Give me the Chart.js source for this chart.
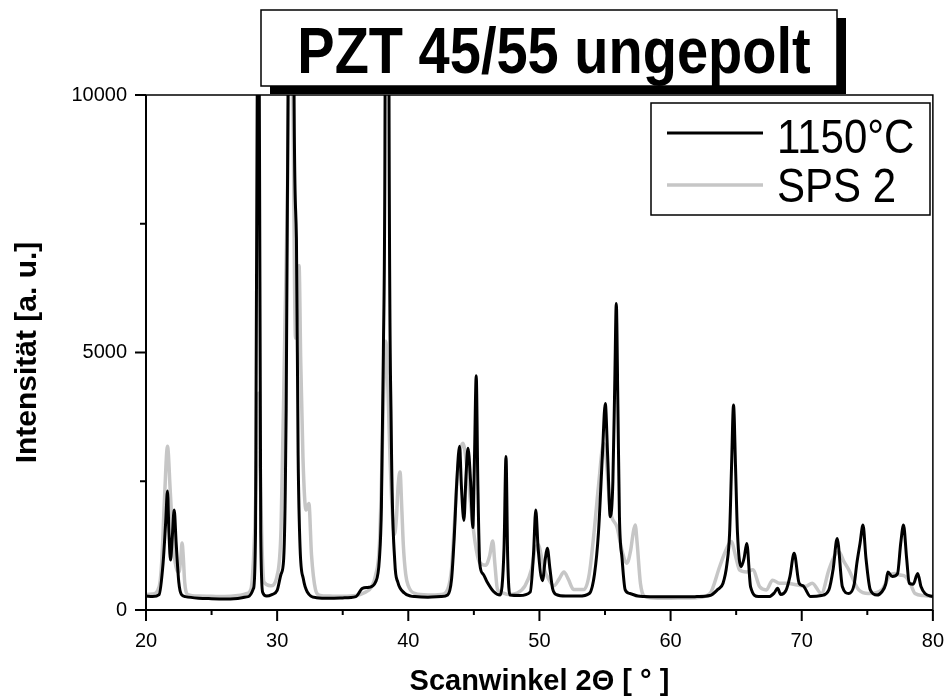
<!DOCTYPE html>
<html>
<head>
<meta charset="utf-8">
<script src="https://cdn.jsdelivr.net/npm/chart.js@4.4.1/dist/chart.umd.min.js"></script>
<style>
  body { margin: 0; background: #fff; }
  #wrap { width: 952px; height: 700px; position: relative; }
</style>
</head>
<body>
<div id="wrap"><canvas id="xrdChart"></canvas></div>
<script>
// XRD scan, values (peaks above 10000 are cut by the axis)
var chartTitle = 'PZT 45/55 ungepolt';
var seriesNames = ['1150°C', 'SPS 2'];

var angle1150 = [20.0, 20.5, 21.0, 21.3, 21.5, 21.64, 21.75, 21.87, 22.0, 22.15, 22.3, 22.5, 22.7, 23.0, 24.0, 25.0, 26.0, 27.0, 27.8, 28.2,
  28.35, 28.48, 28.56, 28.64, 28.75, 28.9, 29.2, 29.6, 30.0, 30.3, 30.5, 30.65, 30.83, 31.05, 31.29, 31.47, 31.6, 31.75, 32.0, 32.3,
  33.0, 34.0, 35.0, 36.0, 36.5, 37.0, 37.5, 37.8, 37.95, 38.1, 38.23, 38.38, 38.53, 38.7, 38.97, 39.2, 39.7, 40.2,
  40.5, 41.5, 42.5, 43.0, 43.3, 43.5, 43.7, 43.91, 44.05, 44.24, 44.4, 44.55, 44.75, 44.92, 45.05, 45.18, 45.3, 45.45, 45.7, 46.0, 46.5,
  47.0, 47.3, 47.45, 47.58, 47.75, 48.5, 49.3, 49.55, 49.72, 49.9, 50.23, 50.45, 50.6, 50.8, 51.0, 51.3, 52.0, 53.0, 53.8,
  54.2, 54.5, 54.8, 55.02, 55.2, 55.4, 55.6, 55.75, 55.86, 55.98, 56.1, 56.3, 56.54, 56.9, 57.5, 58.0, 59.0, 60.0, 61.0, 62.0,
  63.0, 63.6, 64.0, 64.3, 64.5, 64.65, 64.8, 64.95, 65.1, 65.38, 65.6, 65.81, 66.1, 66.7, 67.5, 67.9, 68.16, 68.4, 68.8, 69.1,
  69.42, 69.8, 70.1, 70.68, 71.5, 72.07, 72.4, 72.7, 73.1, 73.59, 74.0, 74.2, 74.45, 74.67, 74.9, 75.23, 75.75, 76.1, 76.4,
  76.57, 76.9, 77.3, 77.55, 77.76, 78.0, 78.2, 78.5, 78.84, 79.1, 79.4, 80.0];
var count1150 = [270, 260, 300, 900, 1700, 2310, 1500, 970, 1400, 1940, 1300, 540, 300, 260, 230, 220, 215, 225, 260, 420,
  1500, 10000, 30000, 10000, 1500, 340, 270, 300, 380, 700, 1000, 3000, 10000, 40000, 10000, 7220, 3000, 1200, 600, 350,
  240, 230, 235, 260, 420, 440, 540, 1000, 2000, 5000, 10000, 35000, 10000, 3500, 940, 540, 330, 270,
  260, 250, 260, 290, 600, 1400, 2500, 3180, 2400, 1740, 2600, 3140, 2500, 1600, 3000, 4550, 2500, 900, 700, 550, 360,
  290, 1200, 2980, 1000, 290, 280, 350, 1100, 1940, 1200, 570, 1000, 1200, 800, 420, 300, 270, 270, 320,
  700, 1500, 3000, 4010, 3000, 1810, 2500, 4500, 5950, 4000, 1810, 1000, 390, 320, 270, 260, 255, 255, 255, 260,
  280, 400, 520, 900, 1490, 2800, 3980, 2800, 1500, 840, 1000, 1290, 450, 260, 260, 330, 420, 300, 380, 650,
  1100, 520, 470, 260, 280, 390, 800, 1390, 450, 320, 500, 900, 1300, 1650, 1000, 390, 290, 350, 500,
  740, 650, 700, 1300, 1650, 1000, 520, 500, 710, 450, 320, 260];

var angleSPS = [20.0, 20.5, 21.0, 21.2, 21.4, 21.64, 21.85, 22.1, 22.35, 22.52, 22.65, 22.75, 22.85, 22.95, 23.2, 24.0, 25.0, 26.0, 27.0, 27.7,
  28.0, 28.3, 28.5, 28.58, 28.7, 28.85, 29.0, 29.5, 30.0, 30.3, 30.6, 30.8, 30.87, 31.0, 31.2, 31.4, 31.55, 31.67, 31.8, 31.97,
  32.2, 32.42, 32.62, 32.92, 33.2, 34.0, 35.0, 36.0, 36.6, 37.2, 37.5, 37.8, 38.0, 38.15, 38.28, 38.45, 38.6, 38.8, 38.94, 39.1,
  39.22, 39.37, 39.5, 39.62, 39.8, 40.0, 40.5, 41.5, 42.5, 43.0, 43.3, 43.5, 43.8, 44.17, 44.5, 44.8, 45.1, 45.4, 45.9, 46.2,
  46.44, 46.6, 46.8, 47.2, 47.6, 48.3, 48.9, 49.4, 49.65, 49.92, 50.1, 50.35, 50.7, 51.1, 51.5, 51.87, 52.2, 52.6, 53.4, 53.8,
  54.2, 54.5, 54.9, 55.1, 55.4, 55.9, 56.3, 56.67, 56.95, 57.15, 57.3, 57.45, 57.7, 58.05, 59.0, 60.0, 61.0, 62.0, 63.0, 63.74,
  64.2, 64.62, 65.0, 65.25, 65.8, 66.27, 66.8, 67.3, 67.78, 68.3, 68.8, 69.8, 70.3, 70.8, 71.5, 72.07, 72.5, 72.83, 73.2, 73.59,
  74.35, 75.1, 76.1, 76.74, 77.1, 77.5, 77.9, 78.3, 78.64, 79.3, 80.0];
var countSPS = [300, 310, 450, 940, 2100, 3180, 2300, 1200, 780, 740, 1000, 1300, 1000, 540, 300, 270, 265, 260, 280, 320,
  400, 1600, 3500, 4210, 2800, 1200, 540, 470, 670, 1600, 5600, 8300, 10000, 13000, 10000, 5280, 6100, 6690, 4800, 2940,
  1940, 2070, 1070, 400, 290, 270, 265, 280, 330, 450, 670, 1270, 2940, 4500, 5220, 4280, 3000, 1800, 1470, 1800,
  2400, 2680, 2000, 1270, 700, 470, 320, 290, 300, 400, 800, 1600, 2800, 3240, 2700, 1940, 1300, 940, 870, 1050,
  1340, 900, 400, 330, 300, 330, 470, 800, 1150, 1270, 1100, 800, 600, 470, 600, 740, 600, 400, 400, 700,
  1600, 2400, 3240, 2900, 1940, 1620, 1150, 910, 1150, 1500, 1650, 1300, 520, 260, 230, 230, 235, 240, 320, 840,
  1150, 1330, 1000, 780, 740, 780, 450, 390, 580, 520, 520, 480, 460, 520, 320, 780, 1050, 1130, 950, 780,
  390, 320, 390, 680, 710, 680, 650, 500, 320, 280, 260];

var xMinorTicks = [25, 35, 45, 55, 65, 75];
var yMinorTicks = [2500, 7500];

var fontFamily = '"Liberation Sans", Arial, sans-serif';

function toPoints(xs, ys) {
  return xs.map(function (x, i) { return { x: x, y: ys[i] }; });
}

// frame, tick marks, boxed title and boxed legend
var decorPlugin = {
  id: 'decor',
  afterDraw: function (chart) {
    var ctx = chart.ctx;
    var a = chart.chartArea;
    var xs = chart.scales.x;
    var ys = chart.scales.y;
    ctx.save();
    ctx.strokeStyle = '#000';
    ctx.lineWidth = 1.5;
    ctx.strokeRect(a.left, a.top, a.right - a.left, a.bottom - a.top);

    ctx.lineWidth = 2;
    ctx.beginPath();
    ctx.moveTo(a.left, a.top);
    ctx.lineTo(a.left, a.bottom);
    ctx.lineTo(a.right, a.bottom);
    xs.ticks.forEach(function (t) {
      var px = xs.getPixelForValue(t.value);
      ctx.moveTo(px, a.bottom); ctx.lineTo(px, a.bottom + 11);
    });
    xMinorTicks.forEach(function (v) {
      var px = xs.getPixelForValue(v);
      ctx.moveTo(px, a.bottom); ctx.lineTo(px, a.bottom + 5);
    });
    ys.ticks.forEach(function (t) {
      var py = ys.getPixelForValue(t.value);
      ctx.moveTo(a.left, py); ctx.lineTo(a.left - 11, py);
    });
    yMinorTicks.forEach(function (v) {
      var py = ys.getPixelForValue(v);
      ctx.moveTo(a.left, py); ctx.lineTo(a.left - 6, py);
    });
    ctx.stroke();

    // title with drop shadow
    ctx.fillStyle = '#000';
    ctx.fillRect(270, 18, 576, 76);
    ctx.fillStyle = '#fff';
    ctx.fillRect(261, 10, 576, 76);
    ctx.lineWidth = 1.5;
    ctx.strokeRect(261, 10, 576, 76);
    ctx.save();
    ctx.translate(554, 73);
    ctx.scale(1, 1.15);
    ctx.fillStyle = '#000';
    ctx.font = 'bold 56px ' + fontFamily;
    ctx.textAlign = 'center';
    ctx.textBaseline = 'alphabetic';
    ctx.fillText(chartTitle, 0, 0);
    ctx.restore();

    // legend
    ctx.fillStyle = '#fff';
    ctx.fillRect(651, 103, 279, 112);
    ctx.lineWidth = 1.5;
    ctx.strokeRect(651, 103, 279, 112);
    var rows = [{ line: 133, base: 153 }, { line: 185, base: 202 }];
    chart.data.datasets.forEach(function (ds, i) {
      ctx.strokeStyle = ds.borderColor;
      ctx.lineWidth = ds.borderWidth;
      ctx.beginPath();
      ctx.moveTo(667, rows[i].line);
      ctx.lineTo(763, rows[i].line);
      ctx.stroke();
      ctx.save();
      ctx.translate(777, rows[i].base);
      ctx.scale(1, 1.16);
      ctx.fillStyle = '#000';
      ctx.font = '42px ' + fontFamily;
      ctx.textAlign = 'left';
      ctx.textBaseline = 'alphabetic';
      ctx.fillText(ds.label, 0, 0);
      ctx.restore();
    });
    ctx.restore();
  }
};

var ctx1 = document.getElementById('xrdChart').getContext('2d');
var xrdChart = new Chart(ctx1, {
  type: 'line',
  data: {
    datasets: [
      {
        label: seriesNames[0],
        data: toPoints(angle1150, count1150),
        borderColor: '#000000',
        borderWidth: 3,
        pointRadius: 0,
        fill: false,
        cubicInterpolationMode: 'monotone',
        clip: 0
      },
      {
        label: seriesNames[1],
        data: toPoints(angleSPS, countSPS),
        borderColor: 'rgb(198, 198, 198)',
        borderWidth: 3.5,
        pointRadius: 0,
        fill: false,
        cubicInterpolationMode: 'monotone',
        clip: 0
      }
    ]
  },
  options: {
    responsive: true,
    maintainAspectRatio: false,
    animation: false,
    layout: { padding: { top: 95, right: 14, left: 0, bottom: 0 } },
    scales: {
      x: {
        type: 'linear',
        min: 20,
        max: 80,
        ticks: { stepSize: 10, color: '#000', padding: 8, font: { family: fontFamily, size: 20 } },
        grid: { display: false, drawTicks: true, tickLength: 11 },
        border: { display: false },
        title: {
          display: true,
          text: 'Scanwinkel 2Θ [ ° ]',
          color: '#000',
          font: { family: fontFamily, size: 29, weight: 'bold' },
          padding: { top: 0, bottom: 1 }
        },
        afterFit: function (scale) { scale.height = 90; }
      },
      y: {
        type: 'linear',
        min: 0,
        max: 10000,
        ticks: {
          stepSize: 5000,
          color: '#000',
          padding: 8,
          font: { family: fontFamily, size: 20 },
          callback: function (value) { return String(value); }
        },
        grid: { display: false, drawTicks: true, tickLength: 11 },
        border: { display: false },
        title: {
          display: true,
          text: 'Intensität [a. u.]',
          color: '#000',
          font: { family: fontFamily, size: 30, weight: 'bold' },
          padding: { top: 10, bottom: 0 }
        },
        afterFit: function (scale) { scale.width = 146; }
      }
    },
    plugins: {
      legend: { display: false },
      title: { display: false },
      tooltip: { enabled: false }
    }
  },
  plugins: [decorPlugin]
});
</script>
</body>
</html>
